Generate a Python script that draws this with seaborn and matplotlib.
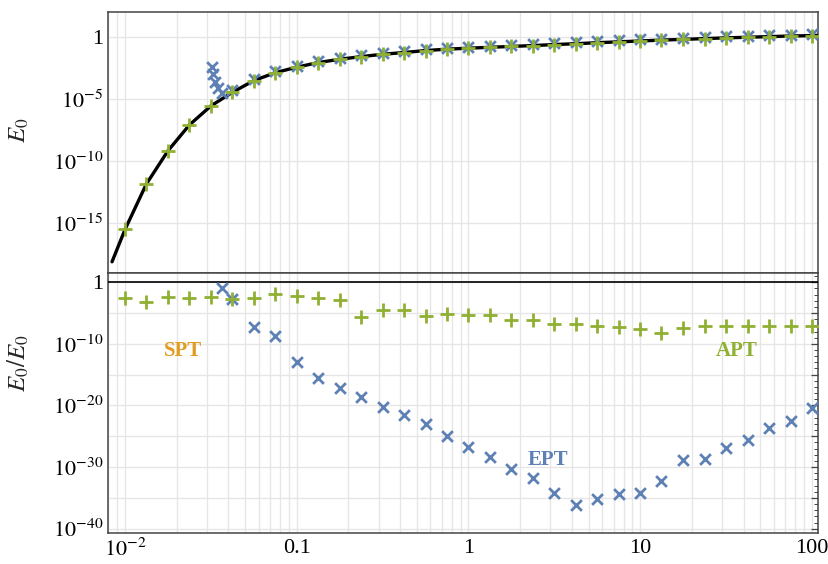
import matplotlib
matplotlib.use("Agg")
import matplotlib.pyplot as plt
import seaborn as sns
import numpy as np
import pandas as pd
from matplotlib.ticker import FixedLocator, FuncFormatter, NullFormatter

# coupling values (common grid of the + / x markers)
x_pts = [0.01, 0.0133, 0.0178, 0.0237, 0.0316, 0.0422, 0.0562, 0.075,
         0.1, 0.133, 0.178, 0.237, 0.316, 0.422, 0.562, 0.75,
         1.0, 1.33, 1.78, 2.37, 3.16, 4.22, 5.62, 7.5,
         10.0, 13.3, 17.8, 23.7, 31.6, 42.2, 56.2, 75.0, 100.0]

# exact E0 curve (log10)
curve_x = [0.0084] + x_pts + [108.0]
curve_log = [-18.1, -15.5, -11.85, -9.16, -7.09, -5.56, -4.46, -3.52, -2.88,
             -2.44, -2.07, -1.80, -1.59, -1.40, -1.26, -1.10, -0.99,
             -0.91, -0.84, -0.77, -0.70, -0.62, -0.55, -0.47, -0.40,
             -0.33, -0.26, -0.20, -0.14, -0.08, -0.03, 0.02, 0.07, 0.10, 0.12]

# APT (green +), top panel: log10 E0
apt_top = [-15.5, -11.85, -9.16, -7.09, -5.56, -4.46, -3.52, -2.88,
           -2.44, -2.07, -1.80, -1.59, -1.40, -1.26, -1.10, -0.99,
           -0.91, -0.84, -0.77, -0.70, -0.62, -0.55, -0.47, -0.40,
           -0.33, -0.26, -0.20, -0.14, -0.08, -0.03, 0.02, 0.07, 0.10]

# EPT (blue x), top panel
ept_top_x = [0.0320, 0.0327, 0.0334, 0.0349, 0.0369] + x_pts[5:]
ept_top = [-2.39, -3.0, -3.65, -4.13, -4.49,
           -4.30, -3.40, -2.76, -2.32, -1.95, -1.68, -1.47, -1.28, -1.14,
           -0.98, -0.87, -0.79, -0.72, -0.65, -0.58, -0.50, -0.43, -0.35,
           -0.28, -0.21, -0.14, -0.08, -0.02, 0.04, 0.09, 0.14, 0.19, 0.22]

# relative errors (log10), bottom panel
apt_err = [-2.6, -3.15, -2.43, -2.6, -2.34, -2.76, -2.6, -1.95,
           -2.22, -2.6, -2.87, -5.58, -4.5, -4.5, -5.47, -5.19,
           -5.3, -5.3, -6.12, -6.12, -6.82, -6.75, -7.04, -7.2,
           -7.58, -8.18, -7.37, -7.09, -7.09, -7.04, -7.04, -7.04, -7.04]

ept_err_x = [0.0366] + x_pts[5:]
ept_err = [-0.88,
           -2.8, -7.2, -8.67, -13.0, -15.5, -17.1, -18.57, -20.19, -21.54,
           -23.0, -24.96, -26.69, -28.3, -30.35, -31.81, -34.15, -36.1,
           -35.2, -34.4, -34.15, -32.2, -28.8, -28.7, -26.9, -25.6, -23.6,
           -22.6, -20.35]

BLUE = "#5E81B5"
ORANGE = "#E19C24"
GREEN = "#8FB032"
GRID = "#E6E6E6"
FRAME = "#444444"

sns.set_style("white")
plt.rcParams["font.family"] = ["Liberation Serif", "DejaVu Serif"]
plt.rcParams["mathtext.fontset"] = "stix"

fig = plt.figure(figsize=(8.29, 5.64), dpi=100)
ax1 = fig.add_axes([0.1303, 0.516, 0.8564, 0.4627])
ax2 = fig.add_axes([0.1303, 0.055, 0.8564, 0.461])

df_curve = pd.DataFrame({"x": curve_x, "y": 10.0 ** np.array(curve_log)})
df_apt = pd.DataFrame({"x": x_pts, "y": 10.0 ** np.array(apt_top)})
df_ept = pd.DataFrame({"x": ept_top_x, "y": 10.0 ** np.array(ept_top)})
df_apt_err = pd.DataFrame({"x": x_pts, "y": 10.0 ** np.array(apt_err)})
df_ept_err = pd.DataFrame({"x": ept_err_x, "y": 10.0 ** np.array(ept_err)})

for ax in (ax1, ax2):
    ax.set_xscale("log")
    ax.set_yscale("log")

sns.lineplot(data=df_curve, x="x", y="y", ax=ax1, color="black",
             linewidth=2.4, zorder=3)
sns.scatterplot(data=df_ept, x="x", y="y", ax=ax1, marker="x", s=60,
                color=BLUE, linewidth=2.0, zorder=4)
sns.scatterplot(data=df_apt, x="x", y="y", ax=ax1, marker="+", s=90,
                color=GREEN, linewidth=2.0, zorder=5)

ax2.axhline(1.0, color="black", linewidth=1.2, zorder=3)
sns.scatterplot(data=df_ept_err, x="x", y="y", ax=ax2, marker="x", s=60,
                color=BLUE, linewidth=2.0, zorder=4)
sns.scatterplot(data=df_apt_err, x="x", y="y", ax=ax2, marker="+", s=90,
                color=GREEN, linewidth=2.0, zorder=5)

xlim = (10 ** -2.099, 10 ** 2.035)
x_major = [0.01, 0.1, 1, 10, 100]
x_minor = [m * 10.0 ** e for e in range(-3, 3) for m in range(2, 10)]
x_labels = {0.01: r"$10^{-2}$", 0.1: "0.1", 1: "1", 10: "10", 100: "100"}

for ax in (ax1, ax2):
    ax.set_xlim(*xlim)
    ax.xaxis.set_major_locator(FixedLocator(x_major))
    ax.xaxis.set_minor_locator(FixedLocator(x_minor))
    ax.xaxis.set_minor_formatter(NullFormatter())
    ax.grid(True, which="both", axis="x", color=GRID, linewidth=1.0, zorder=0)
    ax.grid(True, which="major", axis="y", color=GRID, linewidth=1.0, zorder=0)
    ax.set_axisbelow(True)
    for sp in ax.spines.values():
        sp.set_color(FRAME)
        sp.set_linewidth(1.1)
    ax.tick_params(which="both", direction="in", colors=FRAME,
                   labelcolor="black", labelsize=16)
    ax.tick_params(which="major", length=5, width=0.9)
    ax.tick_params(which="minor", length=3, width=0.7)
    ax.set_xlabel("")

ax1.xaxis.set_major_formatter(NullFormatter())
ax1.tick_params(axis="x", which="both", length=0)
ax2.xaxis.set_major_formatter(
    FuncFormatter(lambda v, p: x_labels.get(round(v, 2) if v < 1 else int(round(v)), "")))
ax2.tick_params(axis="x", which="both", length=0, pad=4)

# top panel y axis
ax1.set_ylim(10 ** -19.0, 10 ** 2.0)
ax1.yaxis.set_major_locator(FixedLocator([1e-15, 1e-10, 1e-5, 1.0]))
ax1.yaxis.set_minor_locator(FixedLocator([]))
ax1.yaxis.set_major_formatter(FuncFormatter(
    lambda v, p: "1" if abs(np.log10(v)) < 0.01 else r"$10^{%d}$" % round(np.log10(v))))

# bottom panel y axis
ax2.set_ylim(10 ** -40.7, 10 ** 1.5)
ax2.yaxis.set_major_locator(FixedLocator([10.0 ** e for e in range(-40, 1, 5)]))
ax2.yaxis.set_minor_locator(FixedLocator([10.0 ** e for e in range(-41, 2)]))
ax2.yaxis.set_minor_formatter(NullFormatter())


def err_fmt(v, p):
    e = int(round(np.log10(v)))
    if e == 0:
        return "1"
    if e % 10 != 0:
        return ""
    return r"$10^{%d}$" % e


ax2.yaxis.set_major_formatter(FuncFormatter(err_fmt))
ax2.tick_params(axis="y", which="both", right=True)

ax1.set_ylabel(r"$E_0$", fontsize=18)
ax1.yaxis.set_label_coords(-0.108, 0.548)
ax2.set_ylabel(r"$E_0/E_0$", fontsize=18)
ax2.yaxis.set_label_coords(-0.108, 0.654)

ax2.text(0.0218, 10 ** -11.15, "SPT", color=ORANGE, fontsize=15,
         fontweight="bold", ha="center", va="center")
ax2.text(36.5, 10 ** -11.15, "APT", color=GREEN, fontsize=15,
         fontweight="bold", ha="center", va="center")
ax2.text(2.92, 10 ** -28.8, "EPT", color=BLUE, fontsize=15,
         fontweight="bold", ha="center", va="center")

fig.savefig("out.png", dpi=100)
plt.close(fig)
